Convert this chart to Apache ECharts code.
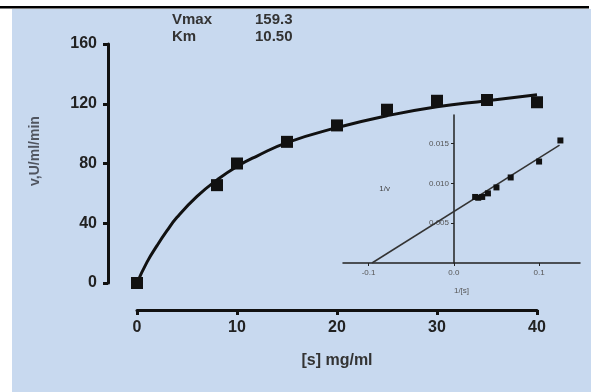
<!DOCTYPE html>
<html>
<head>
<meta charset="utf-8">
<script src="https://cdn.jsdelivr.net/npm/echarts@6/dist/echarts.min.js"></script>
<style>
  html, body { margin: 0; padding: 0; background: #fff; }
  #kineticsChart { width: 591px; height: 392px; }
</style>
</head>
<body>
<div id="kineticsChart"></div>
<script>
// substrate / velocity points (main plot)
var substrate = [0, 8, 10, 15, 20, 25, 30, 35, 40];
var velocity = [0, 65.5, 80, 94.5, 105.5, 116, 122, 122.5, 121];

// fitted curve
var curveS = [0, 1, 2, 3, 4, 6, 8, 10, 12, 15, 20, 25, 30, 35, 40];
var curveV = [0, 14, 25, 35, 44, 58, 69, 78, 85, 94, 104, 112, 118, 122, 126];

// Lineweaver-Burk inset
var invS = [0.125, 0.1, 0.0667, 0.05, 0.04, 0.0333, 0.0286, 0.025];
var invV = [0.0154, 0.01275, 0.01075, 0.0095, 0.00875, 0.0083, 0.0082, 0.0083];
var lbLineX = [-0.096, 0.124];
var lbLineY = [0, 0.0148];

var insetXTicks = [-0.1, 0, 0.1];
var insetYTicks = [0.005, 0.010, 0.015];

var fitNames = ['Vmax', 'Km'];
var fitValues = ['159.3', '10.50'];

var chart, option;

initChart();

function initChart() {
    chart = echarts.init(document.getElementById('kineticsChart'));

    var pts = substrate.map(function (s, i) { return [s, velocity[i]]; });
    var curve = curveS.map(function (s, i) { return [s, curveV[i]]; });
    var lbPts = invS.map(function (x, i) { return [x, invV[i]]; });
    var lbLine = lbLineX.map(function (x, i) { return [x, lbLineY[i]]; });

    var boldTxt = { color: '#222', fontFamily: 'Liberation Sans, Arial, sans-serif', fontWeight: 'bold' };
    var smallTxt = { color: '#555', fontFamily: 'Liberation Sans, Arial, sans-serif', fontSize: 8 };

    option = {
        animation: false,
        backgroundColor: '#fff',
        graphic: [
            { type: 'rect', left: 12, top: 9, shape: { width: 579, height: 383 }, style: { fill: '#c8d9ef' }, z: -10 },
            { type: 'rect', left: 0, top: 6, shape: { width: 589, height: 2.5 }, style: { fill: '#000' } },
            { type: 'text', left: 172, top: 11, style: Object.assign({ text: fitNames.join('\n'), fontSize: 15, lineHeight: 17 }, boldTxt, { fill: '#333' }) },
            { type: 'text', left: 255, top: 11, style: Object.assign({ text: fitValues.join('\n'), fontSize: 15, lineHeight: 17 }, boldTxt, { fill: '#333' }) },
            { type: 'text', x: 35, y: 151, rotation: Math.PI / 2,
              style: { text: 'v,U/ml/min', fill: '#505560', fontSize: 14, fontWeight: 'bold', fontFamily: 'Liberation Sans, Arial, sans-serif', align: 'center', verticalAlign: 'middle' } }
        ],
        grid: [
            { left: 137, right: 54, top: 44, bottom: 109 },
            { left: 343, right: 11, top: 115, bottom: 129 }
        ],
        xAxis: [
            {
                gridIndex: 0, type: 'value', min: 0, max: 40, interval: 10, offset: 27,
                splitLine: { show: false },
                axisLine: { onZero: false, lineStyle: { color: '#111', width: 3 } },
                axisTick: { length: 5, lineStyle: { color: '#111', width: 3 } },
                axisLabel: Object.assign({ fontSize: 16, margin: 10 }, boldTxt),
                name: '[s] mg/ml', nameLocation: 'middle', nameGap: 43,
                nameTextStyle: Object.assign({ fontSize: 16 }, boldTxt, { color: '#333' })
            },
            {
                gridIndex: 1, type: 'value', min: -0.13, max: 0.148,
                splitLine: { show: false },
                axisLine: { onZero: false, lineStyle: { color: '#222', width: 1.5 } },
                axisTick: { length: 3, customValues: insetXTicks, lineStyle: { color: '#222' } },
                axisLabel: Object.assign({ margin: 6, customValues: insetXTicks, formatter: function (v) { return v.toFixed(1); } }, smallTxt),
                name: '1/[s]', nameLocation: 'middle', nameGap: 24,
                nameTextStyle: smallTxt
            }
        ],
        yAxis: [
            {
                gridIndex: 0, type: 'value', min: 0, max: 160, interval: 40, offset: 29,
                splitLine: { show: false },
                axisLine: { show: true, onZero: false, lineStyle: { color: '#111', width: 3 } },
                axisTick: { show: true, length: 5, lineStyle: { color: '#111', width: 3 } },
                axisLabel: Object.assign({ fontSize: 16, margin: 11 }, boldTxt)
            },
            {
                // offset pulls the axis in to sit on 1/[s] = 0
                gridIndex: 1, type: 'value', min: 0, max: 0.0186, offset: -111,
                splitLine: { show: false },
                axisLine: { show: true, onZero: false, lineStyle: { color: '#222', width: 1.5 } },
                axisTick: { show: true, length: 3, customValues: insetYTicks, lineStyle: { color: '#222' } },
                axisLabel: Object.assign({ margin: 5, customValues: insetYTicks, formatter: function (v) { return v.toFixed(3); } }, smallTxt),
                name: '1/v', nameLocation: 'middle', nameRotate: 0, nameGap: 64,
                nameTextStyle: Object.assign({}, smallTxt, { fontSize: 8, color: '#444' })
            }
        ],
        series: [
            {
                type: 'line', xAxisIndex: 0, yAxisIndex: 0, data: curve, smooth: true,
                showSymbol: false, lineStyle: { color: '#111', width: 3 }
            },
            {
                type: 'scatter', xAxisIndex: 0, yAxisIndex: 0, data: pts,
                symbol: 'rect', symbolSize: 12, itemStyle: { color: '#111', opacity: 1 }, z: 5
            },
            {
                type: 'line', xAxisIndex: 1, yAxisIndex: 1, data: lbLine,
                showSymbol: false, lineStyle: { color: '#333', width: 1.5 }
            },
            {
                type: 'scatter', xAxisIndex: 1, yAxisIndex: 1, data: lbPts,
                symbol: 'rect', symbolSize: 6, itemStyle: { color: '#111', opacity: 1 }, z: 5
            }
        ]
    };
    chart.setOption(option);
}
</script>
</body>
</html>
